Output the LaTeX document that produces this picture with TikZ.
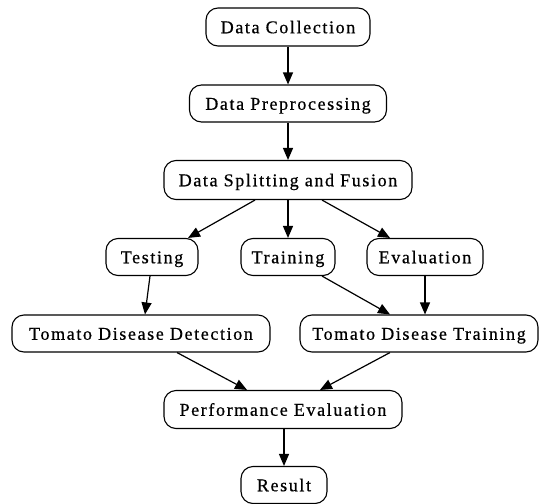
\documentclass[tikz,border=0pt]{standalone}
\usepackage{fontspec}
\setmainfont[LetterSpace=9,FakeBold=0.6]{Liberation Serif}
\usetikzlibrary{arrows.meta,calc}
\begin{document}
\begin{tikzpicture}[x=1pt,y=-1pt,
  box/.style={draw,rounded corners=12pt,line width=1.1pt,inner sep=0pt,
    minimum height=37pt,text height=14.5pt,text depth=2pt,
    font=\fontsize{18}{21}\selectfont},
  arr/.style={line width=1.2pt,-{Triangle[length=12pt,width=10pt]}}]
\fill[white] (0,0) rectangle (540,503);
\useasboundingbox (0,0) rectangle (540,503);
\node[box,minimum width=164pt,minimum height=38pt] (dc) at (288,27) {Data Collection};
\node[box,minimum width=197pt] (dp) at (288,103.5) {Data Preprocessing};
\node[box,minimum width=248pt,minimum height=39pt] (ds) at (288,180) {Data Splitting and Fusion};
\node[box,minimum width=92pt] (test) at (152,257) {Testing};
\node[box,minimum width=94pt] (train) at (288,257) {Training};
\node[box,minimum width=116pt] (eval) at (425,257) {Evaluation};
\node[box,minimum width=258pt] (tdd) at (141,333.5) {Tomato Disease Detection};
\node[box,minimum width=238pt] (tdt) at (419,333.5) {Tomato Disease Training};
\node[box,minimum width=238pt,minimum height=38pt] (pe) at (283,409.5) {Performance Evaluation};
\node[box,minimum width=86pt] (res) at (284,485) {Result};
\draw[arr] (dc) -- (dp);
\draw[arr] (dp) -- (ds);
\draw[arr] ($(ds.south)+(-33,0)$) -- ($(test.north)+(36,0)$);
\draw[arr] (ds) -- (train);
\draw[arr] ($(ds.south)+(34,0)$) -- ($(eval.north)+(-35,0)$);
\draw[arr] ($(test.south)+(-2,0)$) -- ($(tdd.north)+(4,0)$);
\draw[arr] ($(train.south)+(34,0)$) -- ($(tdt.north)+(-29,0)$);
\draw[arr] (eval.south) -- (eval.south |- tdt.north);
\draw[arr] ($(tdd.south)+(36,0)$) -- ($(pe.north)+(-36,0)$);
\draw[arr] ($(tdt.south)+(-29,0)$) -- ($(pe.north)+(37,0)$);
\draw[arr] (pe.south -| res.north) -- (res.north);
\end{tikzpicture}
\end{document}
